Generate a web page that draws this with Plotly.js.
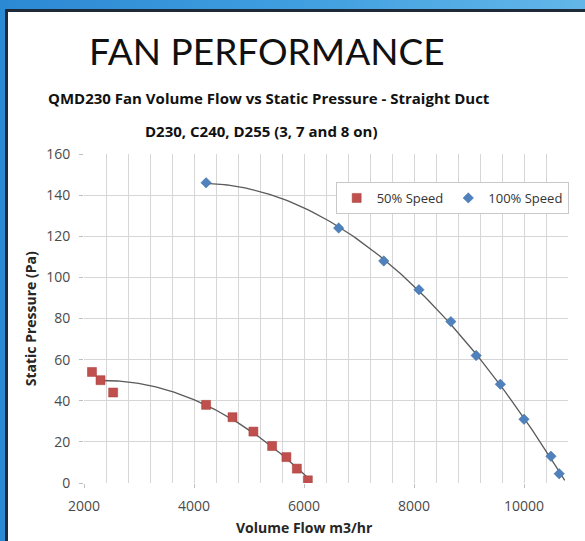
<!DOCTYPE html>
<html>
<head>
<meta charset="utf-8">
<script src="https://cdn.plot.ly/plotly-3.0.1.min.js"></script>
<style>
  html, body { margin: 0; padding: 0; width: 585px; height: 541px; overflow: hidden;
    background: linear-gradient(90deg, #2b88d3 0%, #3f9ee0 50%, #63b7e8 100%); }
  #frame { position: absolute; left: 5px; top: 9px; width: 577px; height: 529px;
    border-left: 3px solid #1e2a38; border-top: 3px solid #1e2a38; background: #fff; }
  #plot { width: 577px; height: 529px; }
</style>
</head>
<body>
<div id="frame"><div id="plot"></div></div>
<script>
// ---- data ----
const flow50 = [2145, 2300, 2530, 4220, 4700, 5080, 5420, 5680, 5870, 6070];
const pressure50 = [54, 50, 44, 38, 32, 25, 18, 12.6, 7, 1.3];
const flow100 = [4220, 6630, 7450, 8090, 8670, 9130, 9570, 10000, 10490, 10640];
const pressure100 = [146, 124, 108, 94, 78.5, 62, 48, 31, 13, 4.5];
const seriesNames = ["50% Speed", "100% Speed"];
const xTickVals = [2000, 4000, 6000, 8000, 10000];
const xTickText = ["2000", "4000", "6000", "8000", "10000"];
const yTickVals = [0, 20, 40, 60, 80, 100, 120, 140, 160];

// quadratic least-squares trendline (as Excel's polynomial order 2)
function quadFit(xs, ys) {
  let s = [0,0,0,0,0], t = [0,0,0];
  const xm = xs.reduce((a,b)=>a+b,0)/xs.length;
  for (let i = 0; i < xs.length; i++) {
    const x = (xs[i]-xm)/1000;
    let p = 1;
    for (let k = 0; k < 5; k++) { s[k] += p; if (k < 3) t[k] += p*ys[i]; p *= x; }
  }
  const A = [[s[0],s[1],s[2],t[0]],[s[1],s[2],s[3],t[1]],[s[2],s[3],s[4],t[2]]];
  for (let c = 0; c < 3; c++) {
    for (let r = c+1; r < 3; r++) {
      const f = A[r][c]/A[c][c];
      for (let k = c; k < 4; k++) A[r][k] -= f*A[c][k];
    }
  }
  const co = [0,0,0];
  for (let r = 2; r >= 0; r--) {
    let v = A[r][3];
    for (let k = r+1; k < 3; k++) v -= A[r][k]*co[k];
    co[r] = v/A[r][r];
  }
  return x => { const u = (x-xm)/1000; return co[0] + co[1]*u + co[2]*u*u; };
}
function trend(xs, ys, x0, x1) {
  const f = quadFit(xs, ys), tx = [], ty = [];
  for (let i = 0; i <= 120; i++) { const x = x0 + (x1-x0)*i/120; tx.push(x); ty.push(f(x)); }
  return {tx, ty};
}
const t50 = trend(flow50, pressure50, flow50[1], flow50[flow50.length-1]);
const t100 = trend(flow100, pressure100, flow100[0], flow100[flow100.length-1] + 100);

const lineStyle = {color: '#5a5a5a', width: 1.3};
const data = [
  {x: t50.tx, y: t50.ty, mode: 'lines', line: lineStyle, showlegend: false, hoverinfo: 'skip'},
  {x: t100.tx, y: t100.ty, mode: 'lines', line: lineStyle, showlegend: false, hoverinfo: 'skip'},
  {x: flow50, y: pressure50, name: seriesNames[0], mode: 'markers', type: 'scatter',
   marker: {symbol: 'square', size: 9, color: '#c0504d', line: {width: 0.5, color: '#a33c39'}}},
  {x: flow100, y: pressure100, name: seriesNames[1], mode: 'markers', type: 'scatter',
   marker: {symbol: 'diamond', size: 8, color: '#4f81bd', line: {width: 0.5, color: '#3a6aa0'}}}
];

const tickFont = {family: 'Open Sans, sans-serif', size: 14, color: '#4a4a4a'};
const boldFont = {family: 'Open Sans, sans-serif', size: 14, color: '#262626'};
const layout = {
  width: 577, height: 529,
  margin: {l: 76, r: 17, t: 142, b: 58},
  paper_bgcolor: '#ffffff', plot_bgcolor: '#ffffff',
  showlegend: true,
  legend: {orientation: 'h', x: 0.52, y: 0.915, xanchor: 'left', yanchor: 'top',
    bgcolor: '#ffffff', bordercolor: '#c8c8c8', borderwidth: 1,
    font: {family: 'Open Sans, sans-serif', size: 13, color: '#333333'},
    itemwidth: 30, tracegroupgap: 0},
  xaxis: {range: [2000, 10800], tickvals: xTickVals, ticktext: xTickText, ticks: 'outside', ticklen: 4,
    tickcolor: '#bfbfbf', showgrid: true, gridcolor: '#d6d6d6', gridwidth: 1,
    minor: {dtick: 400, tick0: 2000, showgrid: true, gridcolor: '#d6d6d6', gridwidth: 1},
    zeroline: false, showline: false, tickfont: tickFont, fixedrange: true,
    ticklabelstandoff: 6},
  yaxis: {range: [0, 160], tickvals: yTickVals, ticks: 'outside', ticklen: 4,
    tickcolor: '#bfbfbf', showgrid: true, gridcolor: '#d6d6d6', gridwidth: 1,
    zeroline: false, showline: false, tickfont: tickFont, fixedrange: true,
    ticklabelstandoff: 6},
  annotations: [
    {text: 'FAN PERFORMANCE', xref: 'paper', yref: 'paper', x: 0.379, y: 1.316,
     xanchor: 'center', yanchor: 'middle', showarrow: false,
     font: {family: 'Lato, sans-serif', size: 37, color: '#111111'}},
    {text: '<b>QMD230 Fan Volume Flow vs Static Pressure - Straight Duct</b>', xref: 'paper', yref: 'paper',
     x: 0.383, y: 1.170, xanchor: 'center', yanchor: 'middle', showarrow: false,
     font: {family: 'Open Sans, sans-serif', size: 15, color: '#111111'}},
    {text: '<b>D230, C240, D255 (3, 7 and 8 on)</b>', xref: 'paper', yref: 'paper',
     x: 0.367, y: 1.071, xanchor: 'center', yanchor: 'middle', showarrow: false,
     font: {family: 'Open Sans, sans-serif', size: 15, color: '#111111'}},
    {text: '<b>Volume Flow m3/hr</b>', xref: 'paper', yref: 'paper', x: 0.456, y: -0.136,
     xanchor: 'center', yanchor: 'middle', showarrow: false, font: boldFont},
    {text: '<b>Static Pressure (Pa)</b>', xref: 'paper', yref: 'paper', x: -0.110, y: 0.5,
     textangle: -90, xanchor: 'center', yanchor: 'middle', showarrow: false, font: boldFont}
  ]
};
Plotly.newPlot('plot', data, layout, {displayModeBar: false, staticPlot: true});
</script>
</body>
</html>
